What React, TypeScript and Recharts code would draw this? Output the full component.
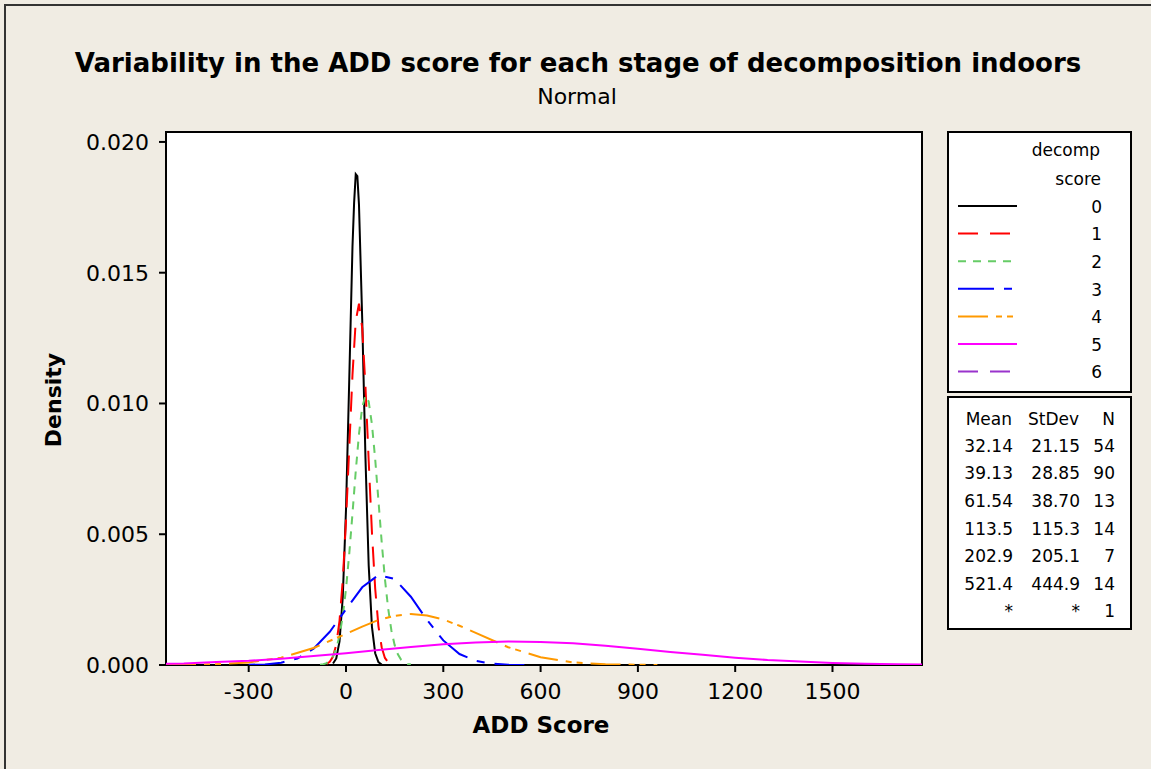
import React from "react";
import { Line, LineChart, XAxis, YAxis } from "recharts";

// density curves, one x/y pair of arrays per decomp score
const stage0X = [-40, -30, -20, -10, 0, 10, 20, 25, 30, 35, 40, 50, 60, 70, 80, 90, 100, 110];
const stage0Y = [0.00006, 0.00025, 0.0009, 0.00259, 0.00594, 0.01091, 0.016, 0.01767, 0.01877, 0.01869, 0.01761, 0.01321, 0.00792, 0.0038, 0.00146, 0.00045, 0.00011, 0.00002];

const stage1X = [-60, -50, -40, -30, -20, -10, 0, 10, 20, 30, 40, 50, 60, 70, 80, 90, 100, 110, 120, 130, 140];
const stage1Y = [0.00004, 0.00012, 0.00032, 0.00078, 0.00169, 0.00324, 0.00551, 0.0083, 0.0111, 0.01315, 0.01382, 0.01288, 0.01065, 0.0078, 0.00507, 0.00292, 0.00149, 0.00068, 0.00027, 0.0001, 0.00003];

const stage2X = [-80, -70, -60, -50, -40, -30, -20, -10, 0, 10, 20, 30, 40, 50, 60, 70, 80, 90, 100, 110, 120, 130, 140, 150, 160, 170, 180, 190, 200];
const stage2Y = [0.00001, 0.00003, 0.00007, 0.00016, 0.00033, 0.00063, 0.00112, 0.00187, 0.00291, 0.00425, 0.00579, 0.0074, 0.00883, 0.00986, 0.0103, 0.01007, 0.0092, 0.00787, 0.00629, 0.00471, 0.00329, 0.00216, 0.00132, 0.00076, 0.00041, 0.0002, 0.0001, 0.00004, 0.00002];

const stage3X = [-300, -250, -200, -150, -100, -50, 0, 50, 100, 150, 200, 250, 300, 350, 400, 450, 500, 550];
const stage3Y = [0.00001, 0.00002, 0.00009, 0.00025, 0.00062, 0.00127, 0.00213, 0.00297, 0.00344, 0.00329, 0.00261, 0.00172, 0.00094, 0.00042, 0.00016, 0.00005, 0.00001, 0.0];

const stage4X = [-555, -500, -400, -300, -200, -100, 0, 50, 100, 150, 200, 250, 300, 350, 400, 500, 600, 700, 800, 900, 960];
const stage4Y = [0.0, 0.00001, 0.00003, 0.0001, 0.00028, 0.00065, 0.00119, 0.00147, 0.00172, 0.00188, 0.00195, 0.00189, 0.00174, 0.0015, 0.00123, 0.00068, 0.0003, 0.0001, 0.00003, 0.00001, 0.0];

const stage5X = [-555, -500, -400, -300, -200, -100, 0, 100, 200, 300, 400, 500, 600, 700, 800, 900, 1000, 1100, 1200, 1300, 1400, 1500, 1600, 1700, 1776];
const stage5Y = [0.00005, 0.00006, 0.00011, 0.00016, 0.00024, 0.00034, 0.00045, 0.00057, 0.00069, 0.00079, 0.00086, 0.0009, 0.00088, 0.00083, 0.00074, 0.00062, 0.0005, 0.00039, 0.00028, 0.00019, 0.00013, 0.00008, 0.00005, 0.00003, 0.00002];

const curveX = [stage0X, stage1X, stage2X, stage3X, stage4X, stage5X];
const curveY = [stage0Y, stage1Y, stage2Y, stage3Y, stage4Y, stage5Y];

const stages = ["0", "1", "2", "3", "4", "5", "6"];
const stageColors = ["#000000", "#FF0000", "#66CC66", "#0000FF", "#FF9900", "#FF00FF", "#9933CC"];
const stageDashes = ["", "20 12", "8 7", "36 10 8 10", "30 8 6 5 6 8", "", "20 12"];

const means = ["32.14", "39.13", "61.54", "113.5", "202.9", "521.4", "*"];
const stdevs = ["21.15", "28.85", "38.70", "115.3", "205.1", "444.9", "*"];
const counts = ["54", "90", "13", "14", "7", "14", "1"];

const xTicks = [-300, 0, 300, 600, 900, 1200, 1500];
const yTicks = [0, 0.005, 0.01, 0.015, 0.02];

const font = "'DejaVu Sans', sans-serif";
const beige = "#F0ECE3";

export default function App() {
  const series = curveX.map((xs, i) => xs.map((x, j) => ({ x, y: curveY[i][j] })));

  return (
    <div
      style={{
        position: "absolute",
        left: 0,
        top: 0,
        width: 1151,
        height: 769,
        background: beige,
        overflow: "hidden",
        fontFamily: font,
      }}
    >
      <div
        style={{
          position: "absolute",
          left: 4,
          top: 4,
          width: 1200,
          height: 800,
          border: "2px solid #333",
        }}
      />
      <div
        style={{
          position: "absolute",
          left: 165,
          top: 131,
          width: 758,
          height: 535,
          boxSizing: "border-box",
          background: "#fff",
          border: "2px solid #000",
        }}
      />

      <div style={{ position: "absolute", left: 0, top: 0 }}>
        <LineChart width={1151} height={769} margin={{ top: 132, right: 229, bottom: 74, left: 0 }}>
          <XAxis
            type="number"
            dataKey="x"
            domain={[-555, 1776]}
            ticks={xTicks}
            allowDataOverflow
            axisLine={false}
            height={30}
            tickSize={7}
            tickMargin={11}
            tickLine={{ stroke: "#000", strokeWidth: 2 }}
            tick={{ fill: "#000", fontSize: 22, fontFamily: font }}
          />
          <YAxis
            type="number"
            domain={[0, 0.02038]}
            ticks={yTicks}
            allowDataOverflow
            axisLine={false}
            width={166}
            tickSize={7}
            tickMargin={10}
            tickFormatter={(v: number) => v.toFixed(3)}
            tickLine={{ stroke: "#000", strokeWidth: 2 }}
            tick={{ fill: "#000", fontSize: 22, fontFamily: font }}
          />
          {series.map((pts, i) => (
            <Line
              key={stages[i]}
              data={pts}
              dataKey="y"
              type="linear"
              stroke={stageColors[i]}
              strokeWidth={2}
              strokeDasharray={stageDashes[i] || undefined}
              dot={false}
              activeDot={false}
              isAnimationActive={false}
            />
          ))}
        </LineChart>
      </div>

      <svg
        width={1151}
        height={769}
        style={{ position: "absolute", left: 0, top: 0, pointerEvents: "none" }}
        fontFamily={font}
      >
        <text x={578} y={72} textAnchor="middle" fontSize={26} fontWeight="bold">
          Variability in the ADD score for each stage of decomposition indoors
        </text>
        <text x={577} y={104} textAnchor="middle" fontSize={22}>
          Normal
        </text>
        <text x={541} y={733} textAnchor="middle" fontSize={23} fontWeight="bold">
          ADD Score
        </text>
        <text
          x={0}
          y={0}
          transform="translate(61 400) rotate(-90)"
          textAnchor="middle"
          fontSize={22}
          fontWeight="bold"
        >
          Density
        </text>

        <rect x={948} y={132} width={183} height={260} fill="#fff" stroke="#000" strokeWidth={2} />
        <text x={1100} y={156} textAnchor="end" fontSize={17}>
          decomp
        </text>
        <text x={1101} y={185} textAnchor="end" fontSize={17}>
          score
        </text>
        {stages.map((s, i) => (
          <g key={s}>
            <line
              x1={958}
              x2={1017}
              y1={206 + i * 27.6}
              y2={206 + i * 27.6}
              stroke={stageColors[i]}
              strokeWidth={2}
              strokeDasharray={stageDashes[i] || undefined}
            />
            <text x={1102} y={212.7 + i * 27.6} textAnchor="end" fontSize={17}>
              {s}
            </text>
          </g>
        ))}

        <rect x={948} y={397} width={183} height={232} fill="#fff" stroke="#000" strokeWidth={2} />
        <text x={1012} y={425} textAnchor="end" fontSize={17}>
          Mean
        </text>
        <text x={1079} y={425} textAnchor="end" fontSize={17}>
          StDev
        </text>
        <text x={1115} y={425} textAnchor="end" fontSize={17}>
          N
        </text>
        {means.map((m, i) => (
          <g key={i}>
            <text x={1013} y={451.7 + i * 27.6} textAnchor="end" fontSize={17}>
              {m}
            </text>
            <text x={1080} y={451.7 + i * 27.6} textAnchor="end" fontSize={17}>
              {stdevs[i]}
            </text>
            <text x={1115} y={451.7 + i * 27.6} textAnchor="end" fontSize={17}>
              {counts[i]}
            </text>
          </g>
        ))}
      </svg>
    </div>
  );
}
